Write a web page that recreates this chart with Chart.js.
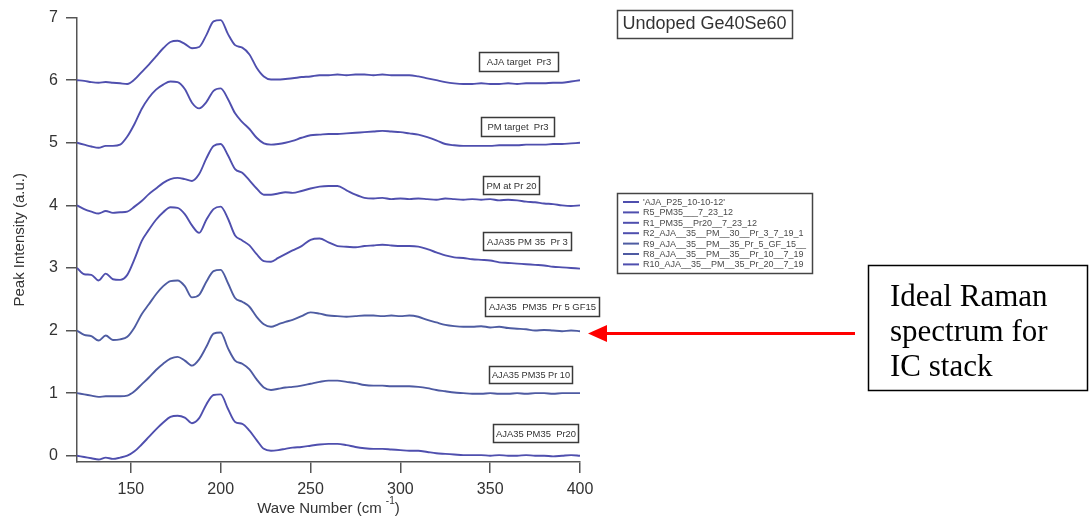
<!DOCTYPE html>
<html>
<head>
<meta charset="utf-8">
<script src="https://cdn.jsdelivr.net/npm/chart.js@4.4.1/dist/chart.umd.min.js"></script>
<style>
  html, body { margin: 0; padding: 0; background: #ffffff; }
  canvas { display: block; }
</style>
</head>
<body>
<canvas id="raman" width="1090" height="518"></canvas>
<script>
// Raman shift (cm^-1) at which every spectrum is sampled
const wavenumbers = [
  120, 124, 128, 132, 136, 140, 144, 148, 152, 156, 160, 164, 168, 172, 176, 180,
  184, 188, 192, 196, 200, 204, 208, 212, 216, 220, 224, 228, 232, 236, 240,
  245, 250, 255, 260, 265, 270, 275, 280, 285, 290, 295, 300, 305, 310, 315, 320,
  325, 330, 335, 340, 345, 350, 355, 360, 365, 370, 375, 380, 385, 390, 395, 400
];

// Stacked spectra (already offset by 6, 5, ... 0)
const ajaP25 = [
  6.00, 5.99, 5.97, 5.96, 5.97, 5.96, 5.95, 5.94, 6.01, 6.13, 6.25, 6.38, 6.51, 6.61, 6.63, 6.58,
  6.51, 6.53, 6.72, 6.94, 6.96, 6.74, 6.56, 6.52, 6.41, 6.20, 6.06, 6.01, 6.01, 6.02, 6.03,
  6.05, 6.06, 6.08, 6.08, 6.09, 6.08, 6.09, 6.09, 6.08, 6.09, 6.08, 6.08, 6.08, 6.06, 6.03, 6.00,
  5.97, 5.95, 5.94, 5.94, 5.95, 5.94, 5.94, 5.95, 5.94, 5.95, 5.95, 5.95, 5.96, 5.96, 5.98, 6.00
];
const r5Pm35 = [
  5.00, 4.97, 4.94, 4.92, 4.95, 4.95, 4.97, 5.10, 5.30, 5.54, 5.72, 5.85, 5.93, 5.98, 5.97, 5.86,
  5.64, 5.55, 5.65, 5.83, 5.87, 5.70, 5.47, 5.33, 5.22, 5.08, 4.99, 4.97, 4.98, 5.00, 5.03,
  5.08, 5.12, 5.13, 5.14, 5.14, 5.15, 5.16, 5.17, 5.18, 5.19, 5.18, 5.17, 5.15, 5.13, 5.09, 5.04,
  4.98, 4.96, 4.95, 4.95, 4.95, 4.95, 4.96, 4.96, 4.96, 4.97, 4.97, 4.97, 4.98, 4.98, 4.99, 5.00
];
const r1Pm35Pr20 = [
  4.00, 3.94, 3.90, 3.87, 3.91, 3.88, 3.89, 3.90, 3.98, 4.07, 4.18, 4.27, 4.36, 4.42, 4.44, 4.42,
  4.39, 4.50, 4.75, 4.95, 4.98, 4.80, 4.58, 4.52, 4.40, 4.27, 4.17, 4.17, 4.19, 4.21, 4.20,
  4.23, 4.27, 4.30, 4.31, 4.31, 4.24, 4.17, 4.12, 4.11, 4.12, 4.10, 4.11, 4.10, 4.11, 4.10, 4.09,
  4.11, 4.10, 4.09, 4.10, 4.09, 4.10, 4.08, 4.09, 4.08, 4.06, 4.05, 4.03, 4.02, 4.00, 3.99, 4.00
];
const r2Pr3 = [
  3.00, 2.90, 2.89, 2.80, 2.91, 2.82, 2.81, 2.89, 3.14, 3.43, 3.61, 3.77, 3.89, 3.97, 3.96, 3.86,
  3.68, 3.56, 3.77, 3.94, 3.98, 3.79, 3.52, 3.44, 3.36, 3.22, 3.11, 3.10, 3.16, 3.22, 3.28,
  3.35, 3.45, 3.47, 3.41, 3.35, 3.34, 3.33, 3.35, 3.36, 3.37, 3.36, 3.35, 3.35, 3.34, 3.30, 3.25,
  3.20, 3.17, 3.16, 3.14, 3.13, 3.12, 3.09, 3.08, 3.07, 3.06, 3.05, 3.04, 3.02, 3.01, 3.00, 2.99
];
const r9Pr5Gf15 = [
  2.00, 1.93, 1.91, 1.84, 1.92, 1.85, 1.86, 1.90, 2.05, 2.26, 2.42, 2.58, 2.71, 2.79, 2.80, 2.71,
  2.53, 2.57, 2.78, 2.95, 2.97, 2.76, 2.52, 2.46, 2.38, 2.22, 2.10, 2.06, 2.10, 2.14, 2.17,
  2.23, 2.29, 2.27, 2.24, 2.23, 2.22, 2.23, 2.24, 2.24, 2.23, 2.24, 2.23, 2.24, 2.22, 2.17, 2.13,
  2.09, 2.07, 2.06, 2.06, 2.07, 2.05, 2.06, 2.04, 2.03, 2.02, 2.00, 2.01, 2.00, 1.99, 2.00, 1.99
];
const r8Pr10 = [
  1.00, 0.98, 0.96, 0.94, 0.95, 0.95, 0.95, 0.96, 1.03, 1.14, 1.25, 1.37, 1.47, 1.55, 1.58, 1.52,
  1.44, 1.54, 1.74, 1.95, 1.97, 1.72, 1.52, 1.47, 1.38, 1.22, 1.09, 1.05, 1.07, 1.09, 1.10,
  1.12, 1.15, 1.18, 1.20, 1.20, 1.18, 1.16, 1.13, 1.12, 1.12, 1.11, 1.11, 1.11, 1.10, 1.08, 1.05,
  1.03, 1.01, 1.00, 0.99, 0.99, 1.00, 0.99, 0.99, 1.00, 0.99, 1.00, 1.00, 0.99, 1.00, 1.00, 1.00
];
const r10Pr20 = [
  0.00, -0.02, -0.04, -0.06, -0.03, -0.05, -0.03, 0.00, 0.07, 0.18, 0.30, 0.42, 0.53, 0.62, 0.64, 0.61,
  0.52, 0.60, 0.82, 0.97, 0.98, 0.75, 0.54, 0.51, 0.40, 0.25, 0.11, 0.08, 0.09, 0.11, 0.13,
  0.14, 0.16, 0.18, 0.19, 0.19, 0.17, 0.14, 0.12, 0.11, 0.11, 0.10, 0.09, 0.08, 0.08, 0.06, 0.04,
  0.03, 0.02, 0.01, 0.01, 0.01, 0.00, 0.01, 0.00, 0.00, 0.01, 0.00, 0.00, -0.01, 0.00, 0.01, 0.00
];

const seriesNames = [
  "'AJA_P25_10-10-12'",
  "R5_PM35___7_23_12",
  "R1_PM35__Pr20__7_23_12",
  "R2_AJA__35__PM__30__Pr_3_7_19_1",
  "R9_AJA__35__PM__35_Pr_5_GF_15__",
  "R8_AJA__35__PM__35__Pr_10__7_19",
  "R10_AJA__35__PM__35_Pr_20__7_19"
];
const sampleTags = [
  "AJA target  Pr3",
  "PM target  Pr3",
  "PM at Pr 20",
  "AJA35 PM 35  Pr 3",
  "AJA35  PM35  Pr 5 GF15",
  "AJA35 PM35 Pr 10",
  "AJA35 PM35  Pr20"
];
const xTicks = [150, 200, 250, 300, 350, 400];
const yTicks = [0, 1, 2, 3, 4, 5, 6, 7];
const chartTitle = "Undoped Ge40Se60";
const calloutLines = ["Ideal Raman", "spectrum for", "IC stack"];

const spectra = [ajaP25, r5Pm35, r1Pm35Pr20, r2Pr3, r9Pr5Gf15, r8Pr10, r10Pr20];
const lineColors = ["#4f4fae", "#4f4fae", "#4f4fae", "#4f4fae", "#4e5ca2", "#4e5aa2", "#4f4fae"];

// tag boxes: left, top, width, height
const tagBoxes = [
  [479, 52, 79, 19],
  [481, 117, 73, 19],
  [483, 176, 56, 18],
  [483, 232, 88, 18],
  [485, 297, 114, 19],
  [489, 366, 83, 17],
  [493, 424, 85, 18]
];

const SANS = "'Liberation Sans', Arial, sans-serif";
const SERIF = "'Liberation Serif', 'Times New Roman', serif";

const overlay = {
  id: 'overlay',
  afterDraw(chart) {
    const ctx = chart.ctx;
    const area = chart.chartArea;
    ctx.save();

    // axis titles
    ctx.fillStyle = '#333';
    ctx.font = '15px ' + SANS;
    ctx.textBaseline = 'alphabetic';
    const main = 'Wave Number (cm ';
    const sup = '-1';
    const tail = ')';
    const wMain = ctx.measureText(main).width;
    ctx.font = '10px ' + SANS;
    const wSup = ctx.measureText(sup).width;
    ctx.font = '15px ' + SANS;
    const wTail = ctx.measureText(tail).width;
    let tx = (area.left + area.right) / 2 - (wMain + wSup + wTail) / 2;
    ctx.textAlign = 'left';
    ctx.fillText(main, tx, 513);
    ctx.font = '10px ' + SANS;
    ctx.fillText(sup, tx + wMain, 504);
    ctx.font = '15px ' + SANS;
    ctx.fillText(tail, tx + wMain + wSup, 513);

    ctx.save();
    ctx.translate(20, (area.top + area.bottom) / 2);
    ctx.rotate(-Math.PI / 2);
    ctx.textAlign = 'center';
    ctx.textBaseline = 'middle';
    ctx.fillText('Peak Intensity (a.u.)', 0, 0);
    ctx.restore();

    // sample tags next to each trace
    ctx.lineWidth = 1.5;
    ctx.strokeStyle = '#3a3a3a';
    ctx.font = '9.5px ' + SANS;
    ctx.textAlign = 'center';
    ctx.textBaseline = 'middle';
    sampleTags.forEach((t, i) => {
      const [bx, by, bw, bh] = tagBoxes[i];
      ctx.fillStyle = '#ffffff';
      ctx.fillRect(bx, by, bw, bh);
      ctx.strokeRect(bx + 0.5, by + 0.5, bw, bh);
      ctx.fillStyle = '#333';
      ctx.fillText(t, bx + bw / 2 + 0.5, by + bh / 2 + 1, bw - 5);
    });

    // title box
    ctx.font = '18px ' + SANS;
    ctx.fillStyle = '#333';
    ctx.fillText(chartTitle, 704.5, 24.5);
    ctx.strokeStyle = '#444';
    ctx.strokeRect(617.5, 10.5, 175, 28);

    // series legend
    ctx.strokeStyle = '#444';
    ctx.strokeRect(617.5, 193.5, 195, 80);
    ctx.font = '9px ' + SANS;
    ctx.textAlign = 'left';
    chart.data.datasets.forEach((ds, i) => {
      const ly = 202 + i * 10.4;
      ctx.strokeStyle = ds.borderColor;
      ctx.lineWidth = 2;
      ctx.beginPath();
      ctx.moveTo(623, ly);
      ctx.lineTo(639, ly);
      ctx.stroke();
      ctx.fillStyle = '#4a4a4a';
      ctx.fillText(ds.label, 643, ly + 0.5, 164);
    });

    // red arrow pointing at the GF15 trace
    ctx.strokeStyle = '#ff0000';
    ctx.fillStyle = '#ff0000';
    ctx.lineWidth = 3;
    ctx.beginPath();
    ctx.moveTo(855, 333.5);
    ctx.lineTo(603, 333.5);
    ctx.stroke();
    ctx.beginPath();
    ctx.moveTo(588, 333.5);
    ctx.lineTo(607, 325);
    ctx.lineTo(607, 342);
    ctx.closePath();
    ctx.fill();

    // callout box
    ctx.strokeStyle = '#000';
    ctx.lineWidth = 1.5;
    ctx.strokeRect(868.5, 265.5, 219, 125);
    ctx.fillStyle = '#000';
    ctx.font = '31px ' + SERIF;
    ctx.textBaseline = 'alphabetic';
    calloutLines.forEach((line, i) => {
      ctx.fillText(line, 890, 306 + i * 35);
    });

    ctx.restore();
  }
};

const axisColor = '#555';
const tickFont = { family: SANS, size: 16 };

new Chart(document.getElementById('raman'), {
  type: 'line',
  data: {
    datasets: spectra.map((vals, i) => ({
      label: seriesNames[i],
      data: wavenumbers.map((w, j) => ({ x: w, y: vals[j] })),
      borderColor: lineColors[i],
      borderWidth: 1.9,
      pointRadius: 0,
      fill: false,
      cubicInterpolationMode: 'monotone'
    }))
  },
  options: {
    responsive: false,
    animation: false,
    devicePixelRatio: 1,
    layout: { padding: { left: 0, top: 16, right: 510, bottom: 0 } },
    plugins: { legend: { display: false }, tooltip: { enabled: false } },
    scales: {
      x: {
        type: 'linear',
        min: 120,
        max: 400,
        afterBuildTicks: s => { s.ticks = xTicks.map(v => ({ value: v })); },
        afterFit: s => { s.height = 56; },
        border: { display: true, color: axisColor, width: 1.5 },
        grid: { drawOnChartArea: false, drawTicks: true, tickLength: 11, color: axisColor, lineWidth: 1.5 },
        ticks: { font: tickFont, color: '#333', padding: 7, maxRotation: 0, autoSkip: false, callback: v => String(v) }
      },
      y: {
        type: 'linear',
        min: -0.1,
        max: 7,
        afterBuildTicks: s => { s.ticks = yTicks.map(v => ({ value: v })); },
        afterFit: s => { s.width = 77; },
        border: { display: true, color: axisColor, width: 1.5 },
        grid: { drawOnChartArea: false, drawTicks: true, tickLength: 11, color: axisColor, lineWidth: 1.5 },
        ticks: { font: tickFont, color: '#333', padding: 8, autoSkip: false, callback: v => String(v) }
      }
    }
  },
  plugins: [overlay]
});
</script>
</body>
</html>
